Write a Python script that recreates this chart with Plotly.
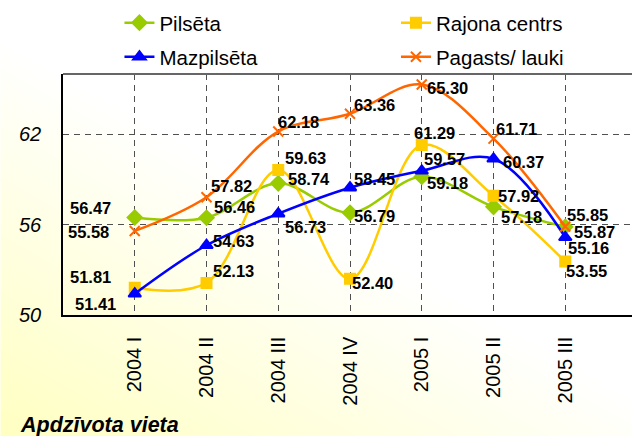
import base64
import struct
import zlib

import plotly.graph_objects as go

# ---------------- data ----------------
quarters = ["2004 I", "2004 II", "2004 III", "2004 IV", "2005 I", "2005 II", "2005 III"]
pilseta = [56.47, 56.46, 58.74, 56.79, 59.18, 57.18, 55.85]
rajona_centrs = [51.81, 52.13, 59.63, 52.40, 61.29, 57.92, 53.55]
mazpilseta = [51.41, 54.63, 56.73, 58.45, 59.57, 60.37, 55.16]
pagasts = [55.58, 57.82, 62.18, 63.36, 65.30, 61.71, 55.87]
y_ticks = [50, 56, 62]

# ---------------- label offsets (style, px) ----------------
# (xshift, yshift, xanchor)
off_pilseta = [(-22, 9.5, "right"), (5, 10.7, "left"), (8, 4, "left"), (2, -3.3, "left"),
               (3, -6.6, "left"), (5, -10, "left"), (0, 11.6, "left")]
off_rajona = [(-22, 10.7, "right"), (4, 11.8, "left"), (5, 12, "left"), (0, -4.5, "left"),
              (-9.5, 11.7, "left"), (2, 0, "left"), (-1, -9.5, "left")]
off_maz = [(-17, -10.6, "right"), (4, 4, "left"), (5, -13.4, "left"), (2, 9, "left"),
           (0, 11.6, "left"), (7, -3.2, "left"), (1, -11, "left")]
off_pagasts = [(-24, -1, "right"), (2, 11, "left"), (-2, 9.6, "left"), (2, 8.5, "left"),
               (3.5, -3, "left"), (0, 10, "left"), (7, -5.4, "left")]

FONT = "Liberation Sans, Arial, sans-serif"
W, H = 632, 436
L, T, B = 62.5, 73.8, 121.4
PW = W - L
PH = H - T - B


def py(px_y):
    """container pixel y -> paper y"""
    return (T + PH - px_y) / PH


def px(px_x):
    return (px_x - L) / PW


def gradient_png(w, h):
    rows = []
    for y in range(h):
        row = bytearray([0])
        for x in range(w):
            f = 1 - (x / w * 0.9 + (h - y) / h * 1.1)
            f = max(0.0, min(1.0, f))
            b = int(round(255 - 62 * f))
            row += bytes((255, 255, b))
        rows.append(bytes(row))
    raw = b"".join(rows)

    def chunk(t, d):
        return struct.pack(">I", len(d)) + t + d + struct.pack(">I", zlib.crc32(t + d) & 0xFFFFFFFF)

    png = (b"\x89PNG\r\n\x1a\n"
           + chunk(b"IHDR", struct.pack(">IIBBBBB", w, h, 8, 2, 0, 0, 0))
           + chunk(b"IDAT", zlib.compress(raw, 9))
           + chunk(b"IEND", b""))
    return "data:image/png;base64," + base64.b64encode(png).decode()


fig = go.Figure()

series = [
    ("Pilsēta", pilseta, "#99CC00", dict(symbol="diamond", size=11), off_pilseta, "legend"),
    ("Rajona centrs", rajona_centrs, "#FFCC00", dict(symbol="square", size=10), off_rajona, "legend"),
    ("Mazpilsēta", mazpilseta, "#0000FF", dict(symbol="triangle-up", size=11), off_maz, "legend2"),
    ("Pagasts/ lauki", pagasts, "#FF6600", dict(symbol="x-thin", size=10), off_pagasts, "legend2"),
]

annotations = []
for name, vals, color, mk, offs, lg in series:
    marker = dict(color=color, line=dict(color=color, width=2), **mk)
    fig.add_trace(go.Scatter(
        x=quarters, y=vals, name=name, mode="lines+markers", legend=lg,
        line=dict(color=color, width=2.5, shape="spline", smoothing=1),
        marker=marker,
    ))
    for q, v, (dx, dy, xa) in zip(quarters, vals, offs):
        annotations.append(dict(
            x=q, y=v, xref="x", yref="y", text=f"{v:.2f}", showarrow=False,
            xanchor=xa, yanchor="middle", xshift=dx, yshift=dy,
            font=dict(family=FONT, size=16.5, color="black", weight="bold"),
        ))

annotations.append(dict(
    x=px(17), y=py(425), xref="paper", yref="paper",
    text="<b><i>Apdzīvota vieta</i></b>", showarrow=False,
    xanchor="left", yanchor="middle",
    font=dict(family=FONT, size=21.5, color="black"),
))

legend_common = dict(
    orientation="h", x=px(119), xanchor="left", yanchor="middle",
    entrywidth=231.5, entrywidthmode="pixels",
    font=dict(family=FONT, size=20.5, color="black"),
    bgcolor="rgba(0,0,0,0)", traceorder="normal",
)

fig.update_layout(
    width=W, height=H,
    margin=dict(l=L, r=0, t=T, b=B, autoexpand=False),
    paper_bgcolor="white",
    plot_bgcolor="rgba(0,0,0,0)",
    font=dict(family=FONT, color="black"),
    showlegend=True,
    legend=dict(y=py(22.7), **legend_common),
    legend2=dict(y=py(56.7), **legend_common),
    annotations=annotations,
    images=[dict(
        source=gradient_png(W, H), xref="paper", yref="paper",
        x=-L / PW, y=(T + PH) / PH, sizex=W / PW, sizey=H / PH,
        xanchor="left", yanchor="top", sizing="stretch", layer="below",
    )],
    shapes=[dict(type="line", xref="paper", yref="paper", x0=0, x1=1, y0=1, y1=1,
                 line=dict(color="#666666", width=2))],
)

fig.update_xaxes(
    type="category", categoryorder="array", categoryarray=quarters,
    range=[-1, 6.93], tickangle=-90, ticks="",
    tickfont=dict(family=FONT, size=20, color="black"),
    ticklabelstandoff=12,
    showgrid=True, gridcolor="#505050", gridwidth=1.2, griddash="6px,5px",
    showline=True, linecolor="black", linewidth=1.5,
    zeroline=False,
)
fig.update_yaxes(
    range=[50, 66], tickvals=y_ticks, ticktext=[str(t) for t in y_ticks], ticks="",
    tickfont=dict(family=FONT, size=20, color="black", style="italic"),
    ticklabelstandoff=16,
    showgrid=True, gridcolor="#505050", gridwidth=1.2, griddash="6px,5px",
    showline=True, linecolor="black", linewidth=1.5,
    zeroline=False,
)

fig.write_html(
    "out.html",
    config={"displayModeBar": False},
    post_script="document.body.style.margin='0';document.body.style.overflow='hidden';",
)
